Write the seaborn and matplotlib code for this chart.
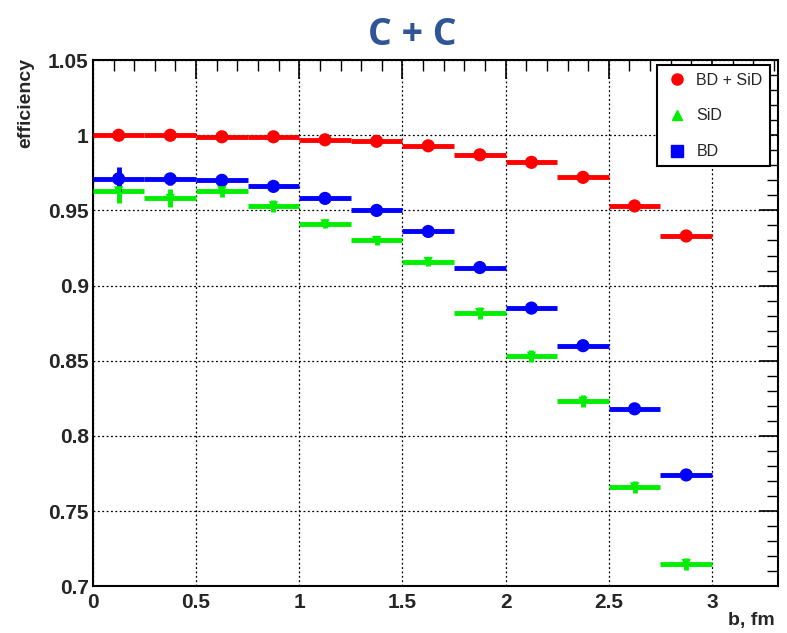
import numpy as np
import pandas as pd
import matplotlib
matplotlib.use("Agg")
import matplotlib.pyplot as plt
import seaborn as sns
from matplotlib.lines import Line2D
from matplotlib.ticker import MultipleLocator
from matplotlib import font_manager

# ---- data ----
b_centers = [0.125, 0.375, 0.625, 0.875, 1.125, 1.375, 1.625, 1.875, 2.125, 2.375, 2.625, 2.875]
b_halfwidth = [0.125] * 12
eff_bd_sid = [1.000, 1.000, 0.999, 0.999, 0.997, 0.996, 0.993, 0.987, 0.982, 0.972, 0.953, 0.933]
err_bd_sid = [0.001] * 12
eff_sid = [0.963, 0.958, 0.963, 0.953, 0.941, 0.930, 0.916, 0.882, 0.853, 0.823, 0.766, 0.715]
err_sid = [0.008, 0.006, 0.004, 0.004, 0.003, 0.003, 0.003, 0.004, 0.004, 0.004, 0.004, 0.004]
eff_bd = [0.971, 0.971, 0.970, 0.966, 0.958, 0.950, 0.936, 0.912, 0.885, 0.860, 0.818, 0.774]
err_bd = [0.008, 0.004, 0.003, 0.002, 0.002, 0.002, 0.002, 0.002, 0.002, 0.002, 0.002, 0.002]
series_names = ["BD + SiD", "SiD", "BD"]
series_colors = ["#ff0000", "#00ee00", "#0000ff"]
series_markers = ["o", "^", "s"]
x_ticklabels = ["0", "0.5", "1", "1.5", "2", "2.5", "3"]
y_ticklabels = ["0.7", "0.75", "0.8", "0.85", "0.9", "0.95", "1", "1.05"]
title_text = "C + C"
x_label = "b, fm"
y_label = "efficiency"

df = pd.concat([
    pd.DataFrame({"b": b_centers, "eff": eff_bd_sid, "err": err_bd_sid, "series": series_names[0]}),
    pd.DataFrame({"b": b_centers, "eff": eff_sid, "err": err_sid, "series": series_names[1]}),
    pd.DataFrame({"b": b_centers, "eff": eff_bd, "err": err_bd, "series": series_names[2]}),
])

sns.set_theme(style="white")
names = {f.name for f in font_manager.fontManager.ttflist}
narrow = "Liberation Sans Narrow" if "Liberation Sans Narrow" in names else "Liberation Sans"
plt.rcParams["font.family"] = [narrow, "DejaVu Sans"]

fig = plt.figure(figsize=(7.87, 6.33), dpi=100)
ax = fig.add_axes([0.118, 0.074, 0.8706, 0.831])

for name, color in zip(series_names, series_colors):
    sub = df[df["series"] == name]
    ax.errorbar(sub["b"], sub["eff"], xerr=b_halfwidth, yerr=sub["err"],
                fmt="none", ecolor=color, elinewidth=3.5, capsize=0, zorder=3)
sns.scatterplot(data=df[df["series"] != "SiD"], x="b", y="eff", hue="series",
                palette={"BD + SiD": series_colors[0], "BD": series_colors[2]},
                s=90, edgecolor="none", legend=False, ax=ax, zorder=4)
sns.scatterplot(data=df[df["series"] == "SiD"], x="b", y="eff", color=series_colors[1],
                marker="v", s=45, edgecolor="none", legend=False, ax=ax, zorder=4)

ax.set_xlim(0, 3.32)
ax.set_ylim(0.7, 1.05)
ax.xaxis.set_minor_locator(MultipleLocator(0.1))
ax.yaxis.set_minor_locator(MultipleLocator(0.01))
ax.set_xticks(np.arange(0, 3.01, 0.5))
ax.set_xticklabels(x_ticklabels)
ax.set_yticks(np.arange(0.7, 1.051, 0.05))
ax.set_yticklabels(y_ticklabels)
ax.tick_params(which="both", direction="in", top=True, right=True, color="black")
ax.tick_params(which="major", length=14, width=1.2, labelsize=15)
ax.tick_params(which="minor", length=8, width=1.0)
ax.tick_params(axis="y", which="major", pad=3)
ax.tick_params(axis="x", which="major", pad=5)
for lbl in ax.get_xticklabels() + ax.get_yticklabels():
    lbl.set_fontweight("bold")
ax.grid(True, which="major", linestyle=(0, (1.5, 2)), color="black", linewidth=0.9)
for s in ax.spines.values():
    s.set_color("black")
    s.set_linewidth(1.5)

ax.set_xlabel("")
ax.set_ylabel("")
fig.text(0.985, 0.02, x_label, ha="right", va="center", fontsize=14, fontweight="bold")
fig.text(0.033, 0.908, y_label, ha="center", va="top", rotation=90, fontsize=14, fontweight="bold")
fig.text(0.524, 0.945, title_text, ha="center", va="center", fontsize=27, fontweight="bold",
         color="#2f5597", family=["Open Sans", "DejaVu Sans"])

handles = [Line2D([], [], linestyle="none", marker=m, color=c, markersize=ms)
           for m, c, ms in zip(series_markers, series_colors, [8, 7, 9])]
leg = ax.legend(handles, series_names, loc="upper right", bbox_to_anchor=(0.988, 0.99),
                borderaxespad=0, frameon=True, fancybox=False, fontsize=11.5, labelspacing=1.3,
                handletextpad=0.4, borderpad=0.45, handlelength=1.6)
leg.get_frame().set_edgecolor("black")
leg.get_frame().set_linewidth(1.5)
leg.get_frame().set_alpha(1)

fig.savefig("out.png", dpi=100)
